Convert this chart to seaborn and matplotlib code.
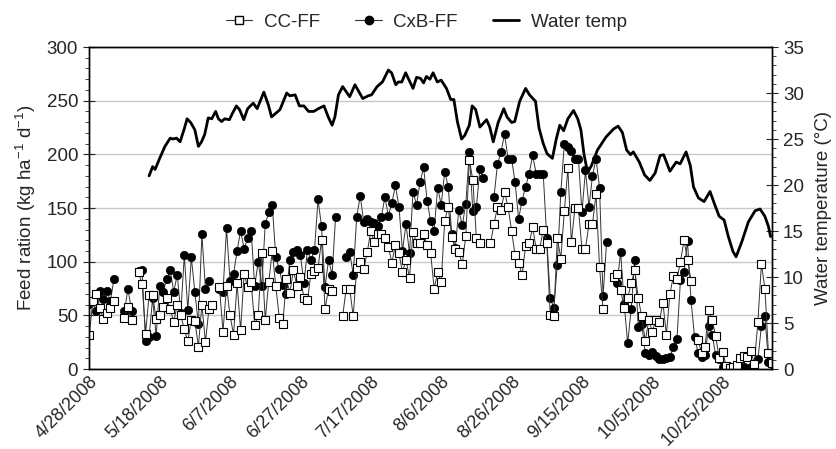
import numpy as np
import pandas as pd
import seaborn as sns
import matplotlib.pyplot as plt
from matplotlib.ticker import MultipleLocator
from matplotlib.lines import Line2D

nan = np.nan
start = pd.Timestamp('2008-04-28')

# feed ration (kg/ha/d), one value per day starting 4/28/2008, nan = no feeding record
cc_ff = [32, 63, 70, 57, 47, 52, 57, 63, nan, nan,
         48, 58, 46, nan, 90, 79, 33, 69, 69, 47,
         50, 58, 66, 56, 44, 60, 50, 37, 26, 46,
         45, 21, 60, 25, 56, 60, nan, 76, 35, 77,
         50, 32, 80, 36, 89, 76, 81, 41, 50, 108,
         46, 81, 110, 77, 48, 42, 84, 71, 92, 77,
         86, 66, 64, 89, 91, 94, 120, 56, 75, 73,
         nan, nan, 49, 75, 75, 49, 94, 100, 93, 109,
         129, 118, 126, 126, 122, 114, 99, 116, 108, 90,
         102, 85, 128, 117, 117, 126, 116, 108, 75, 90,
         81, 138, 151, 123, 112, 109, 98, 124, 195, 176,
         122, 117, nan, nan, 117, 135, 151, 148, 165, 151,
         129, 106, 99, 88, 115, 117, 132, 112, 112, 130,
         117, 50, 49, 122, 103, 147, 187, 118, 150, 150,
         112, 112, 135, 135, 163, 95, 56, nan, nan, 86,
         89, 74, 57, 66, 80, 92, 66, 49, 26, 46,
         35, 46, 44, 62, 32, 70, 87, 84, 100, 120,
         102, 82, nan, 27, 15, 21, 55, 46, 31, 10,
         16, 3, 1, 2, 4, 10, 12, 11, 17, 5,
         44, 98, 75, 15, 6]

cxb_ff = [61, 63, 54, 73, 65, 73, 63, 84, nan, nan,
          54, 75, 54, nan, 91, 92, 26, 30, 66, 31,
          77, 72, 84, 92, 72, 88, 52, 106, 55, 104,
          72, 42, 126, 75, 82, nan, nan, 75, 72, 131,
          82, 89, 110, 129, 112, 122, 129, 77, 100, 77,
          135, 146, 153, 104, 93, 78, 70, 102, 109, 111,
          106, 80, 111, 102, 111, 158, 133, 76, 102, 88,
          142, nan, nan, 104, 109, 88, 142, 161, 137, 140,
          137, 136, 133, 142, 160, 143, 155, 171, 151, 110,
          135, 108, 165, 153, 174, 188, 157, 138, 129, 169,
          153, 184, 170, 126, 113, 148, 134, 154, 202, 147,
          151, 186, 178, nan, nan, 160, 191, 202, 219, 196,
          196, 174, 140, 157, 170, 182, 199, 182, 182, 182,
          122, 66, 57, 97, 165, 210, 207, 203, 196, 196,
          146, 185, 151, 180, 196, 169, 68, 118, nan, nan,
          80, 109, 61, 24, 56, 102, 39, 42, 15, 13,
          16, 12, 9, 9, 10, 11, 21, 28, 83, 90,
          119, 64, 30, 15, 11, 13, 40, 32, 13, 9,
          2, 0.6, 0.5, 0.5, 0.5, 2, 2, 0.5, 2, 2,
          9, 40, 49, 7, 5]

# water temperature (deg C), day offset from 4/28/2008
temp_day = [17, 18, 18.7, 20, 21.5, 23, 23.7, 24.8, 25.8, 26.9,
            27.8, 28.8, 30, 31, 31.9, 32.8, 33.8, 34.8, 35.9, 36.7,
            37.6, 38.5, 39.8, 40.7, 41.8, 42.7, 43.9, 45, 46.6, 47.7,
            49.6, 50.9, 51.8, 54.2, 56.1, 57, 58.5, 59.7, 61, 62.3,
            63.8, 65.1, 66.7, 67.9, 69, 69.8, 70.8, 72, 74, 75.5,
            77.7, 79.3, 80.2, 81.8, 83.3, 85, 85.9, 87.1, 87.8, 88.8,
            89.9, 90.9, 92, 93, 94.1, 95, 95.8, 96.8, 97.7, 98.9,
            100, 101.5, 102.7, 103.6, 104.6, 105.8, 106.7, 108, 108.8, 109.8,
            111, 112.9, 113.8, 114.8, 116.2, 117.8, 118.7, 120, 120.9, 122.3,
            124, 125.1, 126.8, 127.8, 129, 130.1, 131.6, 132.7, 133.7, 134.8,
            136, 137.6, 138.8, 139.7, 140.6, 141.6, 142.7, 144.4, 146.8, 149,
            150.3, 151.5, 152.7, 153.8, 154.6, 156.3, 157.8, 159.3, 160.8, 162.2,
            163.2, 165, 166.8, 167.9, 169.6, 170.8, 171.7, 173.1, 174.7, 176.4,
            177.8, 179, 180.4, 181.6, 182.9, 183.8, 185.4, 187.3, 189.2, 190.6,
            192, 193, 193.6]
water_temp = [21.0, 22.0, 21.7, 22.9, 24.2, 25.1, 25.0, 25.1, 24.7, 26.0,
              27.2, 26.8, 26.0, 24.2, 24.7, 25.5, 27.3, 27.2, 28.0, 27.2,
              26.9, 27.2, 27.1, 27.8, 28.6, 28.2, 27.1, 28.3, 28.9, 28.3,
              30.1, 28.7, 27.4, 28.2, 30.0, 29.7, 29.8, 28.6, 28.6, 28.0,
              28.0, 28.3, 28.6, 27.4, 26.5, 27.4, 29.8, 30.7, 29.6, 30.9,
              29.4, 29.7, 29.8, 30.7, 31.2, 32.5, 32.2, 30.9, 31.2, 31.2,
              32.2, 31.4, 30.5, 31.7, 31.6, 31.1, 31.8, 31.5, 32.2, 31.2,
              31.4, 30.5, 29.3, 29.3, 26.9, 25.0, 25.4, 26.5, 28.6, 28.2,
              26.3, 27.1, 26.3, 24.7, 26.8, 28.3, 27.4, 26.8, 26.9, 29.1,
              30.5, 29.8, 29.1, 26.2, 24.5, 23.4, 22.9, 25.0, 26.5, 25.9,
              27.2, 28.1, 27.2, 26.0, 23.3, 21.4, 22.1, 23.8, 25.2, 26.1,
              26.4, 25.7, 23.8, 23.3, 23.6, 22.5, 21.1, 20.5, 21.3, 23.2,
              23.3, 21.5, 22.5, 22.3, 23.6, 22.1, 19.8, 18.6, 18.2, 19.3,
              17.8, 16.6, 16.2, 14.4, 12.8, 12.2, 13.8, 16.0, 17.2, 17.4,
              16.6, 15.5, 14.4]

tick_labels = ['4/28/2008', '5/18/2008', '6/7/2008', '6/27/2008', '7/17/2008',
               '8/6/2008', '8/26/2008', '9/15/2008', '10/5/2008', '10/25/2008']

sns.set_style('white')
plt.rcParams['font.family'] = ['Liberation Sans', 'DejaVu Sans']
plt.rcParams['mathtext.fontset'] = 'custom'
plt.rcParams['mathtext.rm'] = 'Liberation Sans'
plt.rcParams['mathtext.it'] = 'Liberation Sans:italic'
fs = 13.5

dates = start + pd.to_timedelta(np.arange(len(cc_ff)), unit='D')
feed = pd.DataFrame({'date': dates, 'CC-FF': cc_ff, 'CxB-FF': cxb_ff})
temp = pd.DataFrame({'date': start + pd.to_timedelta(temp_day, unit='D'),
                     'temp': water_temp})


def segments(col):
    # break the line where days are missing
    d = feed[['date', col]].copy()
    d['seg'] = d[col].isna().cumsum()
    return d.dropna()


fig, ax = plt.subplots(figsize=(8.36, 4.49), dpi=100)
fig.subplots_adjust(left=0.1068, right=0.9234, top=0.8953, bottom=0.178)

sns.lineplot(data=segments('CxB-FF'), x='date', y='CxB-FF', units='seg', estimator=None,
             ax=ax, color='#333333', linewidth=0.7, marker='o', markersize=6,
             markerfacecolor='black', markeredgecolor='black', markeredgewidth=0.5)
sns.lineplot(data=segments('CC-FF'), x='date', y='CC-FF', units='seg', estimator=None,
             ax=ax, color='#333333', linewidth=0.7, marker='s', markersize=5.5,
             markerfacecolor='white', markeredgecolor='black', markeredgewidth=0.8)

ax2 = ax.twinx()
sns.lineplot(data=temp, x='date', y='temp', ax=ax2, color='black', linewidth=2)

ax.set_xlim(start, start + pd.Timedelta(days=194))
ax.set_ylim(0, 300)
ax2.set_ylim(0, 35)
ax.yaxis.set_major_locator(MultipleLocator(50))
ax.yaxis.set_minor_locator(MultipleLocator(10))
ax2.yaxis.set_major_locator(MultipleLocator(5))
ax2.yaxis.set_minor_locator(MultipleLocator(1))

ticks = start + pd.to_timedelta(np.arange(len(tick_labels)) * 20, unit='D')
ax.set_xticks(ticks)
ax.set_xticklabels(tick_labels, rotation=45, ha='right', rotation_mode='anchor', fontsize=13)

ax.yaxis.grid(True, color='#c8c8c8', linewidth=1)
ax.xaxis.grid(False)
ax.set_axisbelow(True)

ax.tick_params(axis='x', direction='in', length=4, width=0.8, pad=3)
ax.tick_params(axis='y', which='major', direction='inout', length=8, width=0.8, labelsize=fs, pad=4)
ax.tick_params(axis='y', which='minor', direction='out', length=3, width=0.6, left=True)
ax2.tick_params(axis='y', which='major', direction='inout', length=8, width=0.8, labelsize=fs, pad=4)
ax2.tick_params(axis='y', which='minor', direction='out', length=3, width=0.6, right=True)

for a in (ax, ax2):
    for s in a.spines.values():
        s.set_color('black')
        s.set_linewidth(1)

ax.set_xlabel('')
ax.set_ylabel('Feed ration (kg ha$^{-1}$ d$^{-1}$)', fontsize=fs, labelpad=6)
ax2.set_ylabel('Water temperature (\u00b0C)', fontsize=fs, labelpad=8)

handles = [Line2D([], [], color='#333333', lw=0.8, marker='s', markersize=6,
                  markerfacecolor='white', markeredgecolor='black'),
           Line2D([], [], color='#333333', lw=0.8, marker='o', markersize=6,
                  markerfacecolor='black', markeredgecolor='black'),
           Line2D([], [], color='black', lw=2)]
fig.legend(handles, ['CC-FF', 'CxB-FF', 'Water temp'], loc='center',
           bbox_to_anchor=(0.51, 0.95), ncol=3, frameon=False, fontsize=fs,
           handlelength=1.4, handletextpad=0.6, columnspacing=1.9)

fig.savefig('out.png', dpi=100)
